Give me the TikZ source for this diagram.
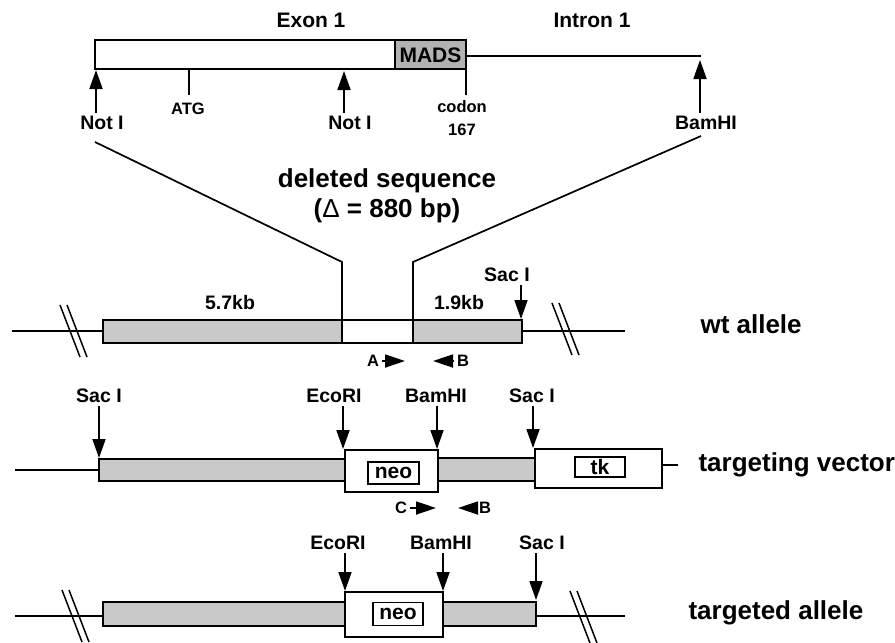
\documentclass[tikz,border=0pt]{standalone}
\usepackage{fontspec}
\setmainfont{Liberation Sans}
\usetikzlibrary{arrows.meta}

\tikzset{
  site/.style={font=\fontsize{19.5}{21}\selectfont\bfseries},
  note/.style={font=\fontsize{16.5}{23}\selectfont\bfseries},
  big/.style={font=\fontsize{26}{30}\selectfont\bfseries},
  seg/.style={draw,line width=1.8pt,fill=gray!42},
  wbox/.style={draw,line width=1.8pt,fill=white},
  tag/.style={draw,line width=1.6pt,inner sep=0pt,font=\fontsize{21}{22}\selectfont\bfseries},
  dna/.style={line width=2.6pt},
  cut/.style={-{Triangle[width=13pt,length=19pt]},line width=1.8pt},
  primer/.style={-{Triangle[width=13pt,length=20pt]},line width=1.8pt},
}

\begin{document}
\begin{tikzpicture}[x=1pt,y=-1pt]
  \useasboundingbox (0,0) rectangle (895,643);

  % exon 1 / intron 1
  \draw[dna] (466,56) -- (701,56);
  \draw[wbox] (95,40) rectangle (395,69);
  \draw[seg,fill=gray!60] (395,40) rectangle (466,69);
  \node[site,font=\fontsize{21}{22}\selectfont\bfseries] (mads) at (430.5,55) {MADS};
  \node[site,font=\fontsize{21}{22}\selectfont\bfseries] (exon) at (311,20) {Exon 1};
  \node[site,font=\fontsize{21}{22}\selectfont\bfseries] (intron) at (592,20) {Intron 1};
  \foreach \name/\txt/\lx/\ax/\ay in {n1/Not I/102/96/70, n2/Not I/350/344/71, b0/BamHI/706/700/60}{
    \node[site] (\name) at (\lx,123) {\txt};
    \coordinate (\name t) at (\ax,\ay);
    \draw[cut] (\name t |- \name.north) -- (\name t);
  }
  \node[note] (atg) at (188,109) {ATG};
  \node[note,align=center] (codon) at (462,118) {codon\\167};
  \coordinate (atgt) at (189,69);
  \coordinate (codont) at (466,69);
  \draw[line width=1.5pt] (atgt) -- ++(0,26);
  \draw[line width=1.5pt] (codont) -- ++(0,26);

  % wt allele
  \draw[dna] (12,331) -- (103,331);
  \draw[dna] (522,331) -- (625,331);
  \draw[seg] (103,320) rectangle (342,343);
  \draw[wbox] (342,320) rectangle (413,343);
  \draw[seg] (413,320) rectangle (522,343);
  \coordinate (dl) at (342,262);
  \coordinate (dr) at (413,262);
  \draw[line width=1.7pt] (95,142) -- (dl) -- (342,343);
  \draw[line width=1.7pt] (701,136) -- (dr) -- (413,343);
  \node[big,align=center] (del) at (387,196) {deleted sequence\\({\mdseries Δ} = 880 bp)};
  \node[site] (kb1) at (230,303) {5.7kb};
  \node[site] (kb2) at (459,303) {1.9kb};
  \node[site] (sw) at (507,275) {Sac I};
  \coordinate (swt) at (521,319);
  \draw[cut] (swt |- sw.south) -- (swt);
  \node[note] (pa) at (373,361) {A};
  \node[note] (pb) at (463,361) {B};
  \draw[primer] (pa.east) -- (405,361);
  \draw[primer] (pb.west) -- (433,361);
  \node[big,anchor=west] (wt) at (697,324) {wt allele};

  % targeting vector
  \draw[dna] (15,470) -- (99,470);
  \draw[dna] (662,465) -- (678,465);
  \draw[seg] (99,459) rectangle (345,481);
  \draw[seg] (438,458) rectangle (535,481);
  \draw[wbox] (345,450) rectangle (438,492);
  \draw[wbox] (535,449) rectangle (662,488);
  \node[tag,minimum width=51pt,minimum height=22pt] (neo1) at (393.5,473) {neo};
  \node[tag,minimum width=50pt,minimum height=20pt] (tk) at (600,467) {tk};
  \foreach \name/\txt/\lx/\ax/\ay in {s1/Sac I/99/99/458, e1/EcoRI/334/343/449, b1/BamHI/436/437/449, s2/Sac I/532/533/448}{
    \node[site] (\name) at (\lx,396) {\txt};
    \coordinate (\name t) at (\ax,\ay);
    \draw[cut] (\name t |- \name.south) -- (\name t);
  }
  \node[note] (pc) at (401,508) {C};
  \node[note] (pb2) at (485,508) {B};
  \draw[primer] (pc.east) -- (436,508);
  \draw[primer] (pb2.west) -- (458,508);
  \node[big,anchor=west] (tv) at (695,465) {targeting vector};

  % targeted allele
  \draw[dna] (15,616) -- (103,616);
  \draw[dna] (536,616) -- (625,616);
  \draw[seg] (103,602) rectangle (345,626);
  \draw[seg] (443,602) rectangle (536,626);
  \draw[wbox] (345,592) rectangle (443,637);
  \node[tag,minimum width=50pt,minimum height=23pt] (neo2) at (398,614) {neo};
  \foreach \name/\txt/\lx/\ax/\ay in {e2/EcoRI/338/345/591, b2/BamHI/441/443/591, s3/Sac I/542/536/600}{
    \node[site] (\name) at (\lx,543) {\txt};
    \coordinate (\name t) at (\ax,\ay);
    \draw[cut] (\name t |- \name.south) -- (\name t);
  }
  \node[big,anchor=west] (ta) at (685,613) {targeted allele};

  % breaks
  \foreach \bx/\by in {73/331, 565/329, 75/616, 583/617}{
    \draw[line width=1.5pt] (\bx-13,\by-26) -- (\bx+7,\by+26);
    \draw[line width=1.5pt] (\bx-6,\by-26) -- (\bx+14,\by+26);
  }
\end{tikzpicture}
\end{document}
